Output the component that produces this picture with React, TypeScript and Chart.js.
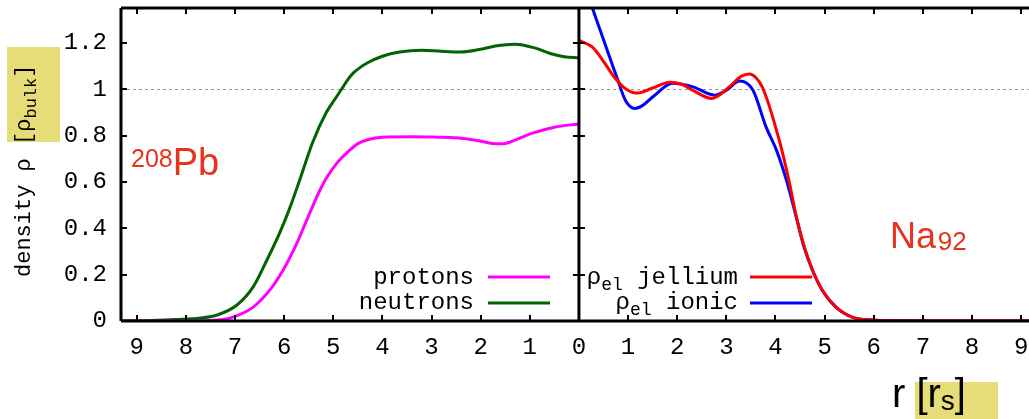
import React, { useEffect, useRef } from 'react';
import { Chart, registerables } from 'chart.js';

Chart.register(...registerables);

// ---- data (r in units of r_s, density in units of rho_bulk) ----
const neutronR = [0, 0.3, 0.6, 0.9, 1.3, 1.7, 2.0, 2.4, 2.8, 3.2, 3.65, 4.0, 4.3, 4.45, 4.6, 4.7, 4.8, 4.95, 5.14, 5.42, 5.68, 5.88, 6.09, 6.35, 6.63, 6.96, 7.36, 7.7, 8.2, 8.7, 9.35];
const neutronRho = [1.135, 1.14, 1.155, 1.178, 1.194, 1.186, 1.172, 1.16, 1.163, 1.168, 1.16, 1.142, 1.114, 1.094, 1.068, 1.042, 1.01, 0.962, 0.9, 0.77, 0.61, 0.49, 0.38, 0.263, 0.147, 0.069, 0.026, 0.013, 0.006, 0.002, 0.0];

const protonR = [0, 0.5, 0.95, 1.3, 1.56, 1.8, 2.1, 2.5, 2.9, 3.4, 4.0, 4.3, 4.5, 4.73, 4.93, 5.13, 5.27, 5.54, 5.74, 6.02, 6.29, 6.63, 7.04, 7.36, 7.8, 8.5, 9.35];
const protonRho = [0.85, 0.836, 0.81, 0.78, 0.764, 0.767, 0.78, 0.79, 0.793, 0.795, 0.793, 0.782, 0.765, 0.724, 0.68, 0.62, 0.565, 0.435, 0.336, 0.22, 0.134, 0.06, 0.017, 0.004, 0.001, 0, 0];

const jelliumR = [0, 0.28, 0.5, 0.69, 0.9, 1.17, 1.5, 1.85, 2.1, 2.31, 2.7, 3.06, 3.3, 3.47, 3.6, 3.73, 3.87, 4.02, 4.15, 4.28, 4.42, 4.58, 4.75, 4.95, 5.23, 5.56, 5.96, 6.5, 7.5, 9.2];
const jelliumRho = [1.21, 1.18, 1.12, 1.06, 1.01, 0.983, 1.005, 1.03, 1.02, 0.996, 0.96, 1.01, 1.055, 1.065, 1.05, 1.01, 0.93, 0.823, 0.72, 0.6, 0.455, 0.325, 0.222, 0.134, 0.06, 0.017, 0.004, 0.001, 0, 0];

const ionicR = [0, 0.15, 0.29, 0.49, 0.79, 0.95, 1.14, 1.3, 1.5, 1.91, 2.32, 2.76, 3.0, 3.27, 3.54, 3.81, 4.02, 4.24, 4.42, 4.58, 4.75, 4.95, 5.23, 5.56, 5.96, 6.5, 7.5, 9.2];
const ionicRho = [1.51, 1.43, 1.34, 1.22, 1.04, 0.95, 0.917, 0.93, 0.966, 1.025, 1.01, 0.974, 0.995, 1.035, 0.996, 0.836, 0.737, 0.595, 0.45, 0.32, 0.22, 0.134, 0.06, 0.017, 0.004, 0.001, 0, 0];

const X_MIN = -9.32; // left panel: r reversed (plotted as -r)
const X_MAX = 9.16;
const Y_MIN = 0;
const Y_MAX = 1.35;
const Y_STEP = 0.2;
const X_STEP = 1;

const MONO = "'Liberation Mono', 'DejaVu Sans Mono', monospace";
const SANS = "'Liberation Sans', Arial, Helvetica, sans-serif";
const LABEL_RED = '#e8331c';
const YELLOW = '#e6dc78';

type Run = { text: string; font: string; dy?: number };

function runsWidth(ctx: CanvasRenderingContext2D, runs: Run[]) {
  let w = 0;
  for (const r of runs) {
    ctx.font = r.font;
    w += ctx.measureText(r.text).width;
  }
  return w;
}

function drawRuns(ctx: CanvasRenderingContext2D, runs: Run[], x: number, y: number, align: 'left' | 'right' = 'left') {
  let cx = align === 'right' ? x - runsWidth(ctx, runs) : x;
  ctx.textAlign = 'left';
  ctx.textBaseline = 'alphabetic';
  for (const r of runs) {
    ctx.font = r.font;
    ctx.fillText(r.text, cx, y + (r.dy || 0));
    cx += ctx.measureText(r.text).width;
  }
}

const decorPlugin = {
  id: 'decor',
  beforeDatasetsDraw(chart: any) {
    const { ctx, chartArea: a, scales } = chart;
    const y1 = Math.round(scales.y.getPixelForValue(1)) + 0.5;
    ctx.save();
    ctx.strokeStyle = '#9a9a9a';
    ctx.lineWidth = 1;
    ctx.setLineDash([3, 3]);
    ctx.beginPath();
    ctx.moveTo(a.left, y1);
    ctx.lineTo(a.right, y1);
    ctx.stroke();
    ctx.restore();
  },
  afterDatasetsDraw(chart: any) {
    const { ctx, chartArea: a, scales } = chart;
    const xs = scales.x;
    const ys = scales.y;
    const x0 = xs.getPixelForValue(0);
    ctx.save();
    // frame
    ctx.strokeStyle = '#000';
    ctx.lineWidth = 3;
    ctx.setLineDash([]);
    ctx.beginPath();
    ctx.moveTo(a.left, a.top);
    ctx.lineTo(a.right, a.top);
    ctx.moveTo(a.left, a.bottom);
    ctx.lineTo(a.right, a.bottom);
    ctx.moveTo(a.left, a.top);
    ctx.lineTo(a.left, a.bottom);
    ctx.moveTo(x0, a.top);
    ctx.lineTo(x0, a.bottom);
    ctx.stroke();
    // inward tick marks
    ctx.lineWidth = 2;
    ctx.beginPath();
    const TL = 6;
    xs.ticks.forEach((t: any) => {
      if (t.value === 0) return;
      const px = Math.round(xs.getPixelForValue(t.value));
      ctx.moveTo(px, a.bottom);
      ctx.lineTo(px, a.bottom - TL);
      ctx.moveTo(px, a.top);
      ctx.lineTo(px, a.top + TL);
    });
    ys.ticks.forEach((t: any) => {
      if (t.value === 0) return;
      const py = Math.round(ys.getPixelForValue(t.value));
      ctx.moveTo(a.left, py);
      ctx.lineTo(a.left + TL, py);
      ctx.moveTo(x0 - TL, py);
      ctx.lineTo(x0 + TL, py);
    });
    ctx.stroke();

    // legends
    const main = `24px ${MONO}`;
    const sub = `18px ${MONO}`;
    ctx.fillStyle = '#000';
    const row1 = 284;
    const row2 = 309;
    drawRuns(ctx, [{ text: 'protons', font: main }], 474, row1, 'right');
    drawRuns(ctx, [{ text: 'neutrons', font: main }], 474, row2, 'right');
    drawRuns(ctx, [{ text: 'ρ', font: main }, { text: 'el', font: sub, dy: 6 }, { text: ' jellium', font: main }], 738, row1, 'right');
    drawRuns(ctx, [{ text: 'ρ', font: main }, { text: 'el', font: sub, dy: 6 }, { text: ' ionic', font: main }], 738, row2, 'right');
    const samples: [number, number, string][] = [
      [488, row1 - 7, '#ff00ff'],
      [488, row2 - 6, '#006400'],
      [750, row1 - 7, '#ff0000'],
      [750, row2 - 6, '#0000ff'],
    ];
    ctx.lineWidth = 3;
    samples.forEach(([sx, sy, c]) => {
      ctx.strokeStyle = c;
      ctx.beginPath();
      ctx.moveTo(sx, sy);
      ctx.lineTo(sx + 62, sy);
      ctx.stroke();
    });

    // nucleus / cluster labels
    ctx.fillStyle = LABEL_RED;
    drawRuns(ctx, [{ text: '208', font: `25px ${SANS}`, dy: -8 }, { text: 'Pb', font: `38px ${SANS}` }], 131, 175);
    drawRuns(ctx, [{ text: 'Na', font: `36px ${SANS}` }, { text: ' ', font: `6px ${SANS}` }, { text: '92', font: `26px ${SANS}`, dy: 2 }], 890, 248);

    // y-axis title with highlight box
    ctx.fillStyle = YELLOW;
    ctx.fillRect(7, 47, 53, 95);
    ctx.fillStyle = '#000';
    ctx.save();
    ctx.translate(30, 277);
    ctx.rotate(-Math.PI / 2);
    drawRuns(ctx, [
      { text: 'density ρ [ρ', font: `22px ${MONO}` },
      { text: 'bulk', font: `17px ${MONO}`, dy: 6 },
      { text: ']', font: `22px ${MONO}` },
    ], 0, 0);
    ctx.restore();

    // x-axis title with highlight box
    ctx.fillStyle = YELLOW;
    ctx.fillRect(915, 382, 83, 37);
    ctx.fillStyle = '#000';
    drawRuns(ctx, [
      { text: 'r [r', font: `40px ${SANS}` },
      { text: 's', font: `28px ${SANS}`, dy: 3 },
      { text: ']', font: `40px ${SANS}` },
    ], 892, 407);
    ctx.restore();
  },
};

function toPoints(rs: number[], vs: number[], sign: number) {
  return rs.map((r, i) => ({ x: sign * r, y: vs[i] })).sort((p, q) => p.x - q.x);
}

export default function App() {
  const ref = useRef<HTMLCanvasElement | null>(null);
  useEffect(() => {
    if (!ref.current) return;
    const line = (label: string, color: string, data: any[]) => ({
      label,
      data,
      borderColor: color,
      backgroundColor: color,
      borderWidth: 3,
      pointRadius: 0,
      fill: false,
      cubicInterpolationMode: 'monotone' as const,
      clip: 0,
    });
    const chart = new Chart(ref.current, {
      type: 'line',
      data: {
        datasets: [
          line('protons', '#ff00ff', toPoints(protonR, protonRho, -1)),
          line('neutrons', '#006400', toPoints(neutronR, neutronRho, -1)),
          line('ρel jellium', '#ff0000', toPoints(jelliumR, jelliumRho, 1)),
          line('ρel ionic', '#0000ff', toPoints(ionicR, ionicRho, 1)),
        ],
      },
      options: {
        animation: false,
        responsive: false,
        devicePixelRatio: 1,
        layout: { padding: { top: 8, left: 0, right: 0, bottom: 0 }, autoPadding: false },
        plugins: { legend: { display: false }, tooltip: { enabled: false } },
        scales: {
          x: {
            type: 'linear',
            min: X_MIN,
            max: X_MAX,
            grid: { display: false, drawTicks: false },
            border: { display: false },
            ticks: {
              stepSize: X_STEP,
              includeBounds: false,
              autoSkip: false,
              maxRotation: 0,
              padding: 12,
              color: '#000',
              font: { family: MONO, size: 24 },
              callback: (v: any) => String(Math.abs(Number(v))),
            },
            afterFit: (s: any) => {
              s.height = 98;
              s.paddingLeft = 0;
              s.paddingRight = 0;
            },
          },
          y: {
            type: 'linear',
            min: Y_MIN,
            max: Y_MAX,
            grid: { display: false, drawTicks: false },
            border: { display: false },
            ticks: {
              stepSize: Y_STEP,
              includeBounds: false,
              padding: 14,
              color: '#000',
              font: { family: MONO, size: 24 },
              callback: (v: any) => String(Math.round(Number(v) * 10) / 10),
            },
            afterFit: (s: any) => {
              s.width = 121;
              s.paddingTop = 0;
              s.paddingBottom = 0;
            },
          },
        },
      },
      plugins: [decorPlugin],
    });
    return () => chart.destroy();
  }, []);
  return (
    <div style={{ position: 'absolute', left: 0, top: 0, width: 1029, height: 419, background: '#fff' }}>
      <canvas ref={ref} width={1029} height={419} style={{ display: 'block' }} />
    </div>
  );
}
